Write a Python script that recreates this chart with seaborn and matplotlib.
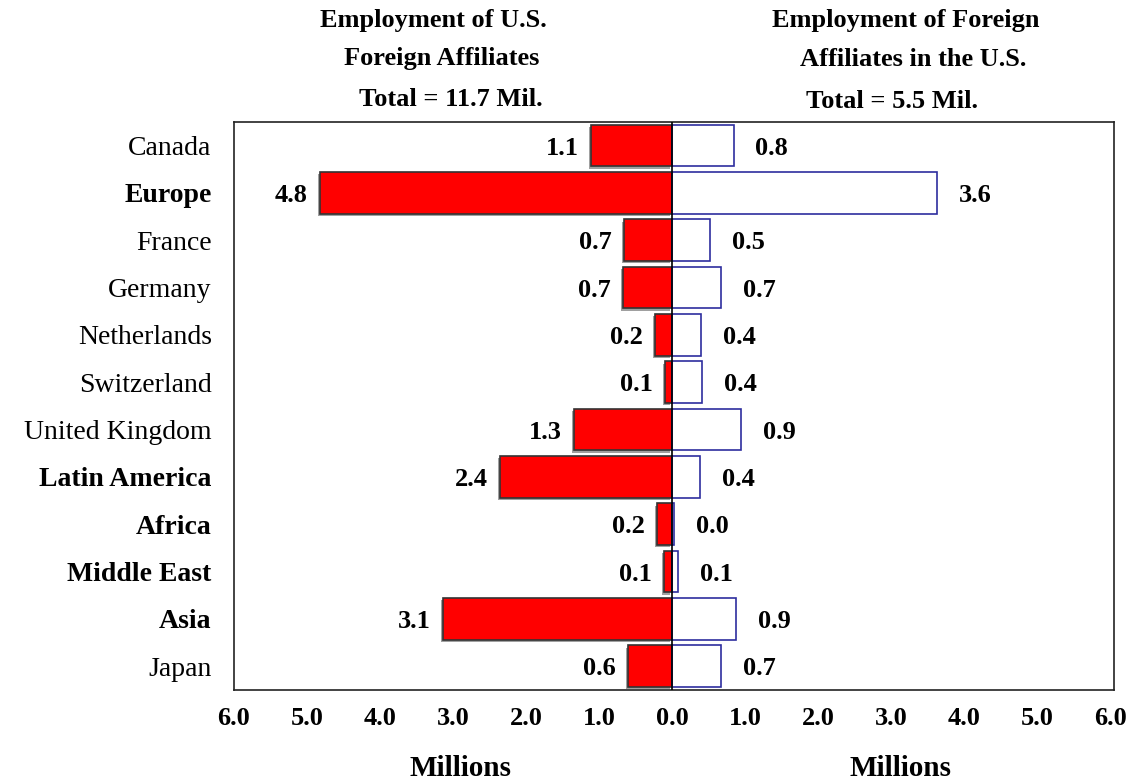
import pandas as pd
import seaborn as sns
import matplotlib.pyplot as plt
import matplotlib.patheffects as pe
from matplotlib.ticker import FuncFormatter

# Regions (top to bottom) and employment in millions
regions = ['Canada', 'Europe', 'France', 'Germany', 'Netherlands', 'Switzerland',
           'United Kingdom', 'Latin America', 'Africa', 'Middle East', 'Asia', 'Japan']
bold_regions = ['Europe', 'Latin America', 'Africa', 'Middle East', 'Asia']
us_abroad = [1.11, 4.82, 0.66, 0.67, 0.23, 0.10, 1.34, 2.36, 0.21, 0.11, 3.14, 0.60]
foreign_in_us = [0.84, 3.63, 0.52, 0.67, 0.40, 0.41, 0.94, 0.38, 0.02, 0.08, 0.88, 0.67]

left_title = ['Employment of U.S.', 'Foreign Affiliates', 'Total = 11.7 Mil.']
right_title = ['Employment of Foreign', 'Affiliates in the U.S.', 'Total = 5.5 Mil.']

df = pd.DataFrame({'region': regions,
                   'left': [-v for v in us_abroad],
                   'right': foreign_in_us})

sns.set_style('white')
plt.rcParams['font.family'] = ['Liberation Serif', 'DejaVu Serif']
plt.rcParams['text.color'] = 'black'
plt.rcParams['xtick.color'] = 'black'
plt.rcParams['ytick.color'] = 'black'

fig = plt.figure(figsize=(11.34, 7.83), dpi=100)
ax = fig.add_axes([0.2063, 0.1188, 0.7761, 0.7254])

sns.barplot(data=df, x='left', y='region', color='#ff0000', saturation=1,
            edgecolor='#333333', linewidth=1.2, width=0.88, ax=ax)
for p in list(ax.patches):
    p.set_path_effects([pe.SimplePatchShadow(offset=(-1.5, -1.5), shadow_rgbFace='#888888', alpha=0.8),
                        pe.Normal()])
sns.barplot(data=df, x='right', y='region', color='white', saturation=1,
            edgecolor='#2e2e9e', linewidth=1.2, width=0.88, ax=ax)

ax.axvline(0, color='black', lw=1.2, zorder=5)
ax.set_xlim(-6, 6.05)
ax.set_ylim(len(regions) - 0.5, -0.5)

# value labels
for i, (l, r) in enumerate(zip(us_abroad, foreign_in_us)):
    ax.text(-l - 0.17, i, f'{l:.1f}', ha='right', va='center_baseline',
            fontsize=19, fontweight='bold')
    ax.text(r + 0.3, i, f'{r:.1f}', ha='left', va='center_baseline',
            fontsize=19, fontweight='bold')

ax.set_xticks(range(-6, 7))
ax.xaxis.set_major_formatter(FuncFormatter(lambda v, _: f'{abs(v):.1f}'))
ax.tick_params(axis='x', length=0, pad=12, labelsize=19)
for t in ax.get_xticklabels():
    t.set_fontweight('bold')
ax.tick_params(axis='y', length=0, pad=16, labelsize=20)
for t in ax.get_yticklabels():
    t.set_verticalalignment('center_baseline')
    if t.get_text() in bold_regions:
        t.set_fontweight('bold')

ax.set_xlabel('')
ax.set_ylabel('')
for s in ax.spines.values():
    s.set_visible(True)
    s.set_color('#222222')
    s.set_linewidth(1.2)

# headers
for txt, x, y in zip(left_title, [433, 442, 451], [21, 59, 99]):
    fig.text(x / 1134, 1 - y / 783, txt, ha='center', va='center',
             fontsize=19, fontweight='bold')
for txt, x, y in zip(right_title, [906, 913, 892], [21, 59, 102]):
    fig.text(x / 1134, 1 - y / 783, txt, ha='center', va='center',
             fontsize=19, fontweight='bold')

# axis titles
fig.text(460 / 1134, 1 - 769 / 783, 'Millions', ha='center', va='center',
         fontsize=21, fontweight='bold')
fig.text(900 / 1134, 1 - 769 / 783, 'Millions', ha='center', va='center',
         fontsize=21, fontweight='bold')

plt.savefig('out.png', dpi=100)
